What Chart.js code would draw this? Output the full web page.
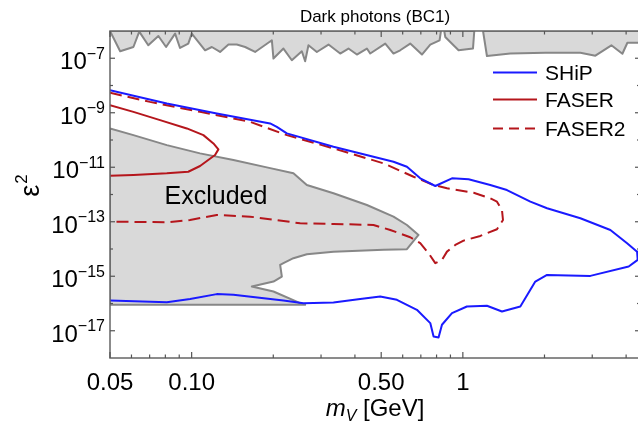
<!DOCTYPE html>
<html>
<head>
<meta charset="utf-8">
<script src="https://cdn.jsdelivr.net/npm/chart.js@4.4.1/dist/chart.umd.min.js"></script>
<style>
  html, body { margin: 0; padding: 0; background: #fff; overflow: hidden; }
  #wrap { width: 642px; height: 426px; }
</style>
</head>
<body>
<div id="wrap"><canvas id="chart" width="642" height="426"></canvas></div>
<script>
// SHiP sensitivity contour (mass in GeV, epsilon^2)
const shipMass = [0.05, 0.081, 0.1238, 0.1947, 0.2061, 0.2244, 0.3334, 0.555, 0.622, 0.6965, 0.7914,
  0.912, 1.05, 1.262, 1.454, 1.774, 2.044, 2.712, 3.499, 4.033, 4.39, 4.413, 4.088, 2.952, 2.044,
  1.85, 1.629, 1.394, 1.227, 1.035, 0.912, 0.8375, 0.8137, 0.78, 0.7584, 0.677, 0.5713, 0.4958,
  0.4183, 0.3334, 0.2584, 0.218, 0.1426, 0.1238, 0.0987, 0.081, 0.05];
const shipEps2 = [6.73e-9, 2.19e-9, 9.42e-10, 4.06e-10, 3.05e-10, 1.75e-10, 5.64e-11, 1.59e-11, 1.04e-11, 3.92e-12, 2.05e-12,
  3.92e-12, 3.6e-12, 2.23e-12, 1.46e-12, 5.45e-13, 3.13e-13, 1.34e-13, 5.0e-14, 1.63e-14, 8.0e-15, 3.99e-15, 2.27e-15, 1.03e-15, 1.12e-15,
  6.4e-16, 7.76e-17, 5.09e-17, 8.24e-17, 7.76e-17, 4.45e-17, 1.66e-17, 5.69e-18, 6.18e-18, 1.91e-17, 5.87e-17, 1.37e-16, 1.8e-16,
  1.45e-16, 1.09e-16, 1.03e-16, 1.29e-16, 2.08e-16, 2.21e-16, 1.45e-16, 1.12e-16, 1.29e-16];

// FASER
const faserMass = [0.05, 0.061, 0.0765, 0.096, 0.1105, 0.1203, 0.1255, 0.122, 0.1074, 0.0972, 0.081, 0.061, 0.05];
const faserEps2 = [1.9e-9, 1.08e-9, 5.36e-10, 2.66e-10, 1.51e-10, 7.5e-11, 4.53e-11, 2.8e-11, 1.11e-11, 6.84e-12, 5.98e-12, 5.18e-12, 4.89e-12];

// FASER2
const faser2Mass = [0.05, 0.0702, 0.1074, 0.1643, 0.2244, 0.3334, 0.51, 0.658, 0.78, 0.874, 1.096, 1.262, 1.336,
  1.394, 1.406, 1.336, 1.16, 1.006, 0.938, 0.874, 0.8375, 0.7914, 0.7474, 0.6965, 0.6397, 0.54, 0.4683,
  0.3334, 0.2512, 0.1643, 0.1238, 0.0987, 0.081, 0.05];
const faser2Eps2 = [5.4e-9, 2.51e-9, 1.08e-9, 4.65e-10, 1.51e-10, 4.92e-11, 1.39e-11, 4.49e-12, 2.23e-12, 1.69e-12, 1.16e-12, 7.26e-13, 5.45e-13,
  2.71e-13, 1.16e-13, 5.31e-14, 3.02e-14, 2.03e-14, 1.41e-14, 8.0e-15, 3.99e-15, 3.02e-15, 7.0e-15, 1.63e-14, 2.7e-14, 5.0e-14, 7.6e-14,
  8.3e-14, 8.8e-14, 1.54e-13, 1.77e-13, 1.16e-13, 9.6e-14, 1.01e-13];

// Excluded region (closed outline)
const exclMass = [0.05, 0.061, 0.081, 0.1074, 0.1426, 0.1893, 0.2373, 0.2659, 0.3334, 0.4428, 0.555, 0.622, 0.6863,
  0.622, 0.51, 0.3334, 0.2659, 0.2373, 0.218, 0.212, 0.2151, 0.2003, 0.1667, 0.2003, 0.2512, 0.2621, 0.05, 0.05];
const exclEps2 = [2.66e-10, 1.51e-10, 6.5e-11, 3.23e-11, 1.84e-11, 9.9e-12, 5.98e-12, 2.23e-12, 1.11e-12, 4.12e-13, 1.54e-13, 7.6e-14, 3.28e-14,
  9.8e-15, 9.3e-15, 8.0e-15, 6.45e-15, 4.6e-15, 3.02e-15, 2.62e-15, 9.75e-16, 6.4e-16, 4.2e-16, 2.75e-16, 1.03e-16, 8.95e-17, 8.95e-17, 2.66e-10];

// upper excluded bands along the top edge
const top1Mass = [0.05, 0.0545, 0.061, 0.0641, 0.0692, 0.0754, 0.0805, 0.0869, 0.0906, 0.0972, 0.1001, 0.1121, 0.1187,
  0.1273, 0.1367, 0.1467, 0.1575, 0.1714, 0.1976, 0.2003, 0.218, 0.2341, 0.2549, 0.2621, 0.2696, 0.2895, 0.3196,
  0.353, 0.3786, 0.4067, 0.4428, 0.4554, 0.5175, 0.555, 0.5876, 0.6397, 0.7066, 0.7584, 0.8207, 0.8303, 0.05];
const top1Eps2 = [1e-6, 1.8e-7, 2.59e-7, 9.5e-7, 2.99e-7, 6.56e-7, 2.59e-7, 8.0e-7, 2.38e-7, 3.45e-7, 8.0e-7, 1.96e-7, 2.59e-7,
  1.7e-7, 3.18e-7, 3.18e-7, 2.59e-7, 1.7e-7, 4.56e-7, 9.75e-8, 2.27e-7, 8.45e-8, 1.8e-7, 7.76e-8, 2.99e-7, 1.7e-7, 3.18e-7,
  1.49e-7, 2.27e-7, 1.37e-7, 2.27e-7, 1.49e-7, 3.45e-7, 1.49e-7, 1.96e-7, 3.45e-7, 1.37e-7, 3.18e-7, 4.56e-7, 1e-6, 1e-6];
const top2Mass = [0.854, 0.8614, 0.9643, 1.09, 1.102, 0.854];
const top2Eps2 = [1e-6, 6.03e-7, 1.96e-7, 2.27e-7, 1e-6, 1e-6];
const top3Mass = [1.187, 1.227, 1.496, 2.015, 2.712, 3.081, 3.529, 3.875, 4.043, 4.6, 4.6, 1.187];
const top3Eps2 = [1e-6, 1.21e-7, 1.49e-7, 1.59e-7, 1.59e-7, 1.24e-7, 2.99e-7, 1.46e-7, 3.7e-7, 3.7e-7, 1e-6, 1e-6];

// axes
const xTickValues = [0.05, 0.1, 0.5, 1];
const xTickLabels = ['0.05', '0.10', '0.50', '1'];
const xMinorTicks = [0.06, 0.07, 0.08, 0.09, 0.2, 0.3, 0.4, 0.6, 0.7, 0.8, 0.9, 2, 3, 4];
const yLabelExps = [-7, -9, -11, -13, -15, -17];
const yMinorExps = [-8, -10, -12, -14, -16];

const legendLabels = ['SHiP', 'FASER', 'FASER2'];

const FONT = '"Liberation Sans", Arial, sans-serif';
const blue = '#1a1aff';
const red = '#b5161c';
const grayFill = '#d9d9d9';
const grayEdge = '#878787';

const pts = (xs, ys) => xs.map((x, i) => ({ x, y: ys[i] }));

const decorations = {
  id: 'decorations',
  beforeDraw(chart) {
    const ctx = chart.ctx;
    ctx.save();
    ctx.fillStyle = '#fff';
    ctx.fillRect(0, 0, chart.width, chart.height);
    ctx.restore();
  },
  afterDraw(chart) {
    const { ctx, chartArea: a, scales: { x, y } } = chart;
    ctx.save();
    // frame
    ctx.strokeStyle = '#666';
    ctx.lineWidth = 1.5;
    ctx.strokeRect(a.left, a.top, a.right - a.left, a.bottom - a.top);

    // inward ticks
    ctx.strokeStyle = '#555';
    ctx.lineWidth = 1.2;
    const tick = (x1, y1, x2, y2) => { ctx.beginPath(); ctx.moveTo(x1, y1); ctx.lineTo(x2, y2); ctx.stroke(); };
    xTickValues.forEach(v => {
      const px = x.getPixelForValue(v);
      tick(px, a.bottom, px, a.bottom - 6);
      tick(px, a.top, px, a.top + 6);
    });
    xMinorTicks.forEach(v => {
      const px = x.getPixelForValue(v);
      tick(px, a.bottom, px, a.bottom - 3.5);
      tick(px, a.top, px, a.top + 3.5);
    });
    yLabelExps.forEach(e => {
      const py = y.getPixelForValue(Math.pow(10, e));
      tick(a.left, py, a.left + 5, py);
      tick(a.right, py, a.right - 5, py);
    });
    yMinorExps.forEach(e => {
      const py = y.getPixelForValue(Math.pow(10, e));
      tick(a.left, py, a.left + 3, py);
      tick(a.right, py, a.right - 3, py);
    });

    // tick labels
    ctx.fillStyle = '#000';
    ctx.textBaseline = 'alphabetic';
    ctx.font = '24px ' + FONT;
    ctx.textAlign = 'center';
    xTickValues.forEach((v, i) => ctx.fillText(xTickLabels[i], x.getPixelForValue(v), 390));
    ctx.textAlign = 'right';
    yLabelExps.forEach(e => {
      const py = y.getPixelForValue(Math.pow(10, e));
      const sup = '\u2212' + Math.abs(e);
      ctx.font = '16px ' + FONT;
      const sw = ctx.measureText(sup).width;
      ctx.fillText(sup, a.left - 5, py + 0.5);
      ctx.font = '24px ' + FONT;
      ctx.fillText('10', a.left - 5 - sw, py + 10.8);
    });

    // axis titles
    ctx.textAlign = 'left';
    ctx.font = 'italic 24px ' + FONT;
    const mW = ctx.measureText('m').width;
    ctx.font = 'italic 16px ' + FONT;
    const vW = ctx.measureText('V').width;
    ctx.font = '24px ' + FONT;
    const gW = ctx.measureText(' [GeV]').width;
    let tx = (a.left + a.right) / 2 - (mW + vW + gW) / 2;
    ctx.font = 'italic 24px ' + FONT;
    ctx.fillText('m', tx, 416);
    ctx.font = 'italic 16px ' + FONT;
    ctx.fillText('V', tx + mW, 421);
    ctx.font = '24px ' + FONT;
    ctx.fillText(' [GeV]', tx + mW + vW, 416);

    ctx.save();
    ctx.translate(39, 186);
    ctx.rotate(-Math.PI / 2);
    ctx.font = '27px ' + FONT;
    const eW = ctx.measureText('\u03b5').width;
    ctx.font = '17px ' + FONT;
    const twoW = ctx.measureText('2').width;
    const sx = -(eW + twoW) / 2;
    ctx.font = '27px ' + FONT;
    ctx.fillText('\u03b5', sx, 0);
    ctx.font = '17px ' + FONT;
    ctx.fillText('2', sx + eW + 1, -12);
    ctx.restore();

    // title
    ctx.textAlign = 'center';
    ctx.font = '17px ' + FONT;
    ctx.fillText('Dark photons (BC1)', 375, 22);

    // region label
    ctx.font = '25px ' + FONT;
    ctx.fillText('Excluded', 216, 204);

    // legend
    const rows = [72.5, 99.5, 128.5];
    ctx.textAlign = 'left';
    ctx.font = '21px ' + FONT;
    legendLabels.forEach((lab, i) => {
      const ds = chart.data.datasets[i];
      ctx.strokeStyle = ds.borderColor;
      ctx.lineWidth = 2;
      ctx.setLineDash(ds.borderDash ? [10, 6] : []);
      tick(493, rows[i], 537, rows[i]);
      ctx.setLineDash([]);
      ctx.fillText(lab, 545, rows[i] + 7.5);
    });
    ctx.restore();
  }
};

const lineDs = (label, data, color, dash) => ({
  label, data, borderColor: color, borderWidth: 2, borderDash: dash,
  pointRadius: 0, fill: false, borderJoinStyle: 'round'
});
const areaDs = (label, data) => ({
  label, data, borderColor: grayEdge, backgroundColor: grayFill, borderWidth: 2,
  pointRadius: 0, fill: 'shape', borderJoinStyle: 'round'
});

new Chart(document.getElementById('chart'), {
  type: 'line',
  data: {
    datasets: [
      lineDs('SHiP', pts(shipMass, shipEps2), blue),
      lineDs('FASER', pts(faserMass, faserEps2), red),
      lineDs('FASER2', pts(faser2Mass, faser2Eps2), red, [12, 6]),
      areaDs('Excluded', pts(exclMass, exclEps2)),
      areaDs('top1', pts(top1Mass, top1Eps2)),
      areaDs('top2', pts(top2Mass, top2Eps2)),
      areaDs('top3', pts(top3Mass, top3Eps2))
    ]
  },
  options: {
    responsive: false,
    animation: false,
    devicePixelRatio: 1,
    layout: { padding: { left: 110, right: 2, top: 31, bottom: 68 } },
    plugins: { legend: { display: false }, tooltip: { enabled: false } },
    scales: {
      x: { type: 'logarithmic', min: 0.05, max: 4.5, display: false },
      y: { type: 'logarithmic', min: 1e-18, max: 1e-6, display: false }
    }
  },
  plugins: [decorations]
});
</script>
</body>
</html>
